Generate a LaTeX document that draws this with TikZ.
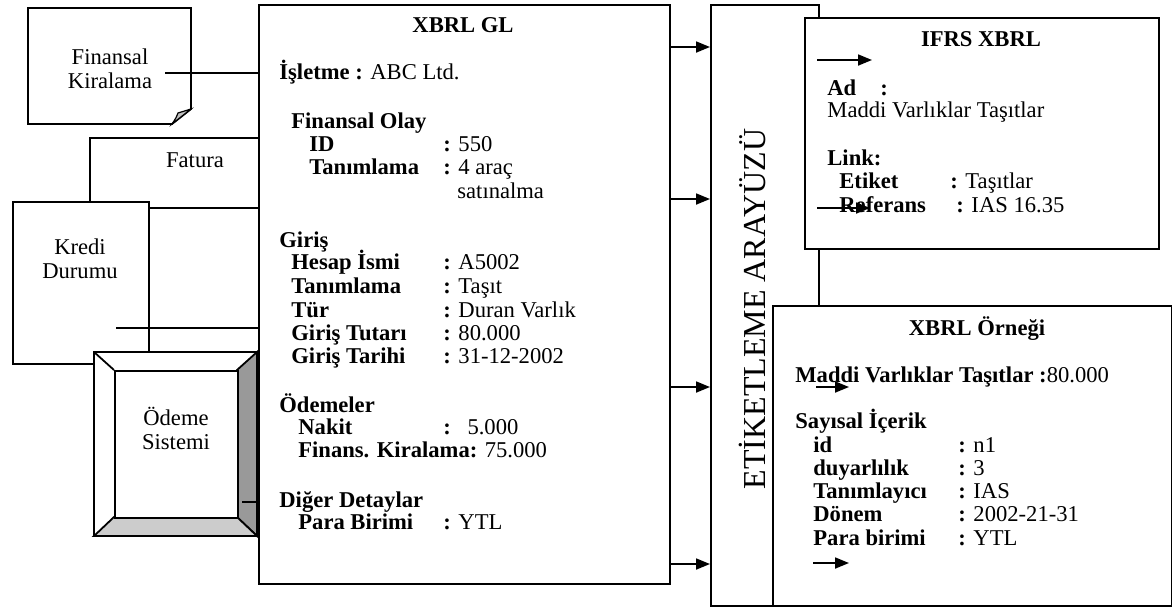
\documentclass[tikz,border=0pt]{standalone}
\usepackage{fontspec}
\setmainfont{Liberation Serif}
\usetikzlibrary{arrows.meta}
\tikzset{
  panel/.style={draw,line width=1pt,fill=white,inner sep=0pt,anchor=north west},
  link/.style={line width=0.9pt},
  arr/.style={link,-{Triangle[length=7pt,width=5.5pt]}},
  txt/.style={anchor=base west,inner sep=0pt,font=\fontsize{11.3}{12}\selectfont},
  lbl/.style={txt,font=\fontsize{11.3}{12}\selectfont\bfseries},
  ttl/.style={anchor=base,inner sep=0pt,font=\fontsize{11.3}{12}\selectfont\bfseries},
  side/.style={align=center,inner sep=0pt,font=\fontsize{11.3}{12}\selectfont}
}
\begin{document}
\begin{tikzpicture}[x=0.5pt,y=-0.5pt]
\useasboundingbox (0,0) rectangle (1172,607);
\node[panel,minimum width=205.5pt,minimum height=289.5pt] (gl) at (258,4) {};
\node[panel,minimum width=54pt,minimum height=300.5pt] (etk) at (710,4) {};
\node[panel,minimum width=177pt,minimum height=115.5pt] (ifrs) at (804,17) {};
\node[panel,minimum width=199.5pt,minimum height=150pt] (orn) at (772,305) {};
\node[rotate=90,inner sep=0pt,font=\fontsize{16}{16}\selectfont] (etklbl) at (752,309) {ETİKETLEME ARAYÜZÜ};
\foreach \yy in {47,199,387,564} \draw[arr] (gl.east |- 0,\yy) -- (etk.west |- 0,\yy);
\node[panel,minimum width=84.5pt,minimum height=35pt] (fat) at (89,137) {};
\node[side] (fatlbl) at (195,160) {Fatura};
\node[panel,minimum width=68pt,minimum height=81pt] (kre) at (12,201) {};
\node[side] (krelbl) at (80,259) {Kredi\\Durumu};
\coordinate (kreout) at (116,328); \draw[link] (kreout) -- (gl.west |- kreout);
\fill[white] (94,352) rectangle (257,536);
\filldraw[link,fill=black!40] (237,370) -- (257,352) -- (257,536) -- (237,517) -- cycle;
\filldraw[link,fill=black!20] (114,517) -- (237,517) -- (257,536) -- (94,536) -- cycle;
\draw[link] (94,352) -- (114,370); \draw[link] (94,352) rectangle (257,536);
\node[panel,minimum width=61.5pt,minimum height=73.5pt] (ode) at (114,370) {};
\node[side] (odelbl) at (176,428) {Ödeme\\Sistemi};
\coordinate (odeout) at (242,502); \draw[link] (odeout) -- (gl.west |- odeout);
\draw[link,fill=white] (28,8) -- (191,8) -- (191,109) -- (172,124) -- (28,124) -- cycle;
\filldraw[line width=0.6pt,fill=black!25] (191,109) -- (178,113) .. controls (176,118) .. (172,124) -- cycle;
\node[side] (fin) at (110,69) {Finansal\\Kiralama};
\coordinate (finout) at (165,73); \draw[link] (finout) -- (gl.west |- finout);
\node[ttl] (gltitle) at (463,32) {XBRL GL};
\node[txt] (isl) at (279,79) {\textbf{İşletme :} ABC Ltd.};
\node[lbl] (olay) at (291,128) {Finansal Olay};
\node[txt] (satin) at (457,198) {satınalma};
\node[lbl] (giris) at (279,247) {Giriş};
\node[lbl] (odm) at (279,412) {Ödemeler};
\node[lbl] (nakit) at (298,434) {Nakit}; \node[txt] (nakitv) at (443,434) {\textbf{:}\hspace{8.3pt}5.000};
\node[txt] (fkir) at (298,457) {\textbf{Finans. Kiralama:} 75.000};
\node[lbl] (diger) at (279,507) {Diğer Detaylar};
\foreach \xx/\yy/\lab/\val in {309/151/ID/550, 309/174/Tanımlama/4 araç, 291/269/Hesap İsmi/A5002, 291/293/Tanımlama/Taşıt, 291/317/Tür/Duran Varlık, 291/340/Giriş Tutarı/80.000, 291/363/Giriş Tarihi/31-12-2002, 298/529/Para Birimi/YTL}
  {\node[lbl] (gll\yy) at (\xx,\yy) {\lab}; \node[txt] (glv\yy) at (443,\yy) {\textbf{:} \val};}
\node[ttl] (ifrstitle) at (981,46) {IFRS XBRL};
\node[lbl] (ad) at (827,95) {Ad}; \node[lbl] (adc) at (880,95) {:};
\node[txt] (adv) at (827,117) {Maddi Varlıklar Taşıtlar};
\node[lbl] (lnk) at (827,165) {Link:};
\node[lbl] (etkt) at (839,188) {Etiket}; \node[txt] (etktv) at (950,188) {\textbf{:} Taşıtlar};
\node[lbl] (ref) at (839,212) {Referans}; \node[txt] (refv) at (956,212) {\textbf{:} IAS 16.35};
\draw[arr] (817,60) -- (872,60); \draw[arr] (817,208) -- (870,208);
\node[ttl] (orntitle) at (977,335) {XBRL Örneği};
\node[txt] (mvt) at (795,382) {\textbf{Maddi Varlıklar Taşıtlar :}80.000};
\node[lbl] (say) at (795,428) {Sayısal İçerik};
\foreach \yy/\lab/\val in {452/id/n1, 475/duyarlılık/3, 498/Tanımlayıcı/IAS, 521/Dönem/2002-21-31, 545/Para birimi/YTL}
  {\node[lbl] (orl\yy) at (813,\yy) {\lab}; \node[txt] (orv\yy) at (958,\yy) {\textbf{:} \val};}
\draw[arr] (816,387) -- (849,387); \draw[arr] (813,563) -- (849,563);
\end{tikzpicture}
\end{document}
